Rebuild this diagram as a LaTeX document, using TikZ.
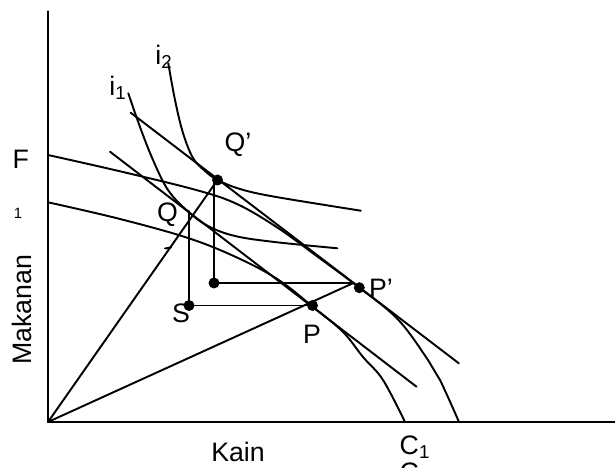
\documentclass[tikz,border=0pt]{standalone}
\usepackage{fontspec}
\setmainfont{Liberation Sans}
\begin{document}
\begin{tikzpicture}[line cap=round,line join=round,
  ax/.style={line width=1.4pt},
  crv/.style={line width=1.1pt},
  lbl/.style={font=\fontsize{15.2}{17}\selectfont,inner sep=0pt},
  dot/.style={circle,fill,inner sep=0pt,minimum size=0.22cm}]
  \useasboundingbox (-0.96,-0.92) rectangle (11.34,8.44);
  % axes
  \coordinate (O) at (0,0);
  \coordinate (ytop) at (0,8.21);
  \coordinate (xend) at (11.4,0);
  \draw[ax] (ytop) -- (O) -- (xend);
  % points
  \coordinate (Qp) at (3.39,4.84);
  \coordinate (Q) at (2.81,4.22);
  \coordinate (S) at (2.82,2.33);
  \coordinate (P) at (5.29,2.33);
  \coordinate (R) at (3.32,2.78);
  \coordinate (K) at (6.11,2.78);
  \coordinate (Pp) at (6.226,2.686);
  % production possibility curves
  \draw[crv] plot[smooth,tension=0.6] coordinates {(0,5.34) (1.5,5.0) (3.0,4.63) (3.8,4.35) (4.6,3.88) (5.4,3.3) (6.226,2.686) (7.0,2.05) (7.6,1.24) (7.84,0.84) (8.22,0)};
  \draw[crv] plot[smooth,tension=0.6] coordinates {(0,4.394) (1.4,4.07) (2.8,3.68) (3.8,3.28) (4.6,2.85) (5.29,2.31) (5.9,1.8) (6.3,1.3) (6.7,0.84) (7.14,0)};
  % indifference curves
  \draw[crv] plot[smooth,tension=0.6] coordinates {(1.606,6.574) (1.84,5.9) (2.1,5.24) (2.4,4.64) (2.79,4.22) (3.2,3.92) (3.74,3.72) (4.53,3.6) (5.786,3.474)};
  \draw[crv] plot[smooth,tension=0.6] coordinates {(2.406,7.174) (2.54,6.44) (2.7,5.78) (2.9,5.28) (3.14,5.02) (3.394,4.84) (3.84,4.66) (4.53,4.506) (6.256,4.226)};
  % price lines
  \draw[crv] (1.654,6.186) -- (8.216,1.174);
  \draw[crv] (1.24,5.406) -- (7.37,0.706);
  % rays and steps
  \draw[crv] (O) -- (Qp);
  \draw[crv] (O) -- (K) -- (R) -- (R |- Qp);
  \draw[crv] (S) -- (P);
  \draw[crv] (S) -- (S |- Q);
  \draw[crv] (2.34,3.47) -- (2.46,3.49);
  \node[dot] (dQp) at (Qp) {};
  \node[dot] (dS) at (S) {};
  \node[dot] (dP) at (P) {};
  \node[dot] (dR) at (R) {};
  \node[dot] (dPp) at (Pp) {};
  % labels
  \node[lbl] (lF) at (-0.546,5.254) {F};
  \node[lbl,font=\fontsize{8.5}{10}\selectfont] (l1) at (-0.6,4.18) {1};
  \node[lbl,rotate=90] (lMak) at (-0.52,2.24) {Makanan};
  \node[lbl] (lKain) at (3.8,-0.6) {Kain};
  \node[lbl] (lC1) at (7.34,-0.5) {C\textsubscript{1}};
  \node[lbl] (lC2) at (7.34,-1.04) {C\textsubscript{2}};
  \node[lbl] (li2) at (2.32,7.3) {i\textsubscript{2}};
  \node[lbl] (li1) at (1.4,6.68) {i\textsubscript{1}};
  \node[lbl] (lQp) at (3.8,5.54) {Q’};
  \node[lbl] (lQ) at (2.39,4.14) {Q};
  \node[lbl] (lS) at (2.66,2.18) {S};
  \node[lbl] (lP) at (5.28,1.76) {P};
  \node[lbl] (lPp) at (6.66,2.68) {P’};
\end{tikzpicture}
\end{document}
